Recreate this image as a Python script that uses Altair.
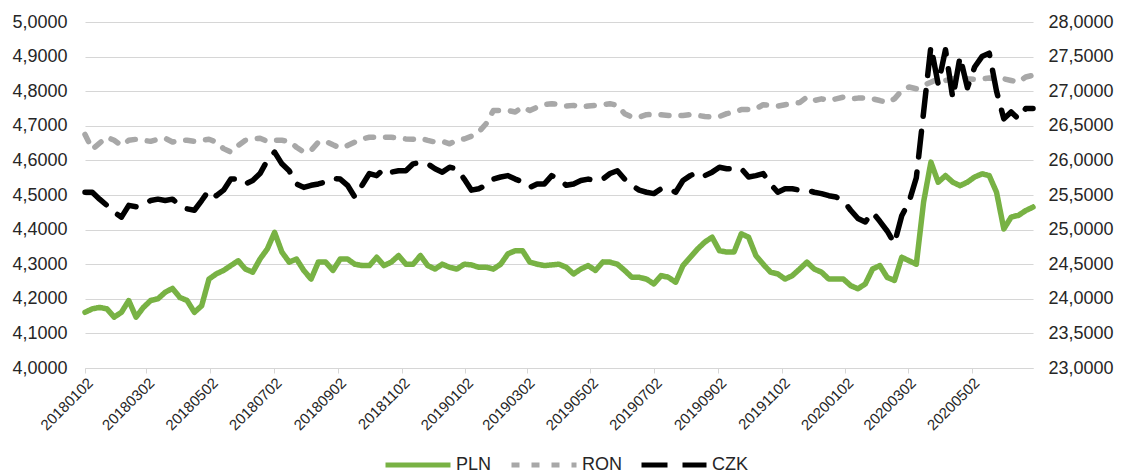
import altair as alt
import pandas as pd

# weekly observation dates (Tuesdays) from 2018-01-02 to 2020-06-30
dates = pd.date_range("2018-01-02", periods=131, freq="7D")

series_names = ["PLN", "RON", "CZK"]

pln = [4.161, 4.171, 4.175, 4.171, 4.147, 4.161, 4.195, 4.147, 4.175, 4.195,
       4.200, 4.219, 4.230, 4.204, 4.195, 4.161, 4.180, 4.257, 4.272, 4.282,
       4.296, 4.310, 4.286, 4.277, 4.315, 4.344, 4.392, 4.335, 4.306, 4.315,
       4.282, 4.257, 4.306, 4.306, 4.282, 4.315, 4.315, 4.300, 4.296, 4.296,
       4.320, 4.296, 4.306, 4.325, 4.300, 4.300, 4.325, 4.296, 4.286, 4.300,
       4.291, 4.286, 4.300, 4.298, 4.291, 4.291, 4.286, 4.300, 4.330, 4.339,
       4.339, 4.306, 4.300, 4.296, 4.298, 4.300, 4.291, 4.272, 4.286, 4.296,
       4.282, 4.306, 4.306, 4.300, 4.282, 4.262, 4.262, 4.257, 4.243, 4.267,
       4.262, 4.248, 4.296, 4.320, 4.344, 4.364, 4.378, 4.339, 4.335, 4.335,
       4.388, 4.378, 4.325, 4.300, 4.277, 4.272, 4.257, 4.267, 4.286, 4.306,
       4.286, 4.277, 4.257, 4.257, 4.257, 4.238, 4.229, 4.243, 4.286, 4.296,
       4.262, 4.253, 4.320, 4.310, 4.300, 4.480, 4.595, 4.537, 4.556, 4.537,
       4.527, 4.537, 4.552, 4.561, 4.556, 4.508, 4.402, 4.436, 4.441, 4.455,
       4.465]

ron = [4.675, 4.632, 4.650, 4.667, 4.658, 4.643, 4.658, 4.661, 4.658, 4.655,
       4.661, 4.664, 4.653, 4.658, 4.658, 4.655, 4.658, 4.661, 4.653, 4.634,
       4.624, 4.643, 4.658, 4.662, 4.664, 4.655, 4.658, 4.658, 4.655, 4.638,
       4.624, 4.629, 4.653, 4.655, 4.645, 4.636, 4.643, 4.653, 4.662, 4.667,
       4.667, 4.667, 4.667, 4.665, 4.662, 4.661, 4.664, 4.658, 4.653, 4.655,
       4.648, 4.658, 4.662, 4.670, 4.682, 4.706, 4.744, 4.744, 4.744, 4.740,
       4.754, 4.744, 4.754, 4.761, 4.764, 4.761, 4.757, 4.759, 4.754, 4.757,
       4.759, 4.761, 4.764, 4.759, 4.735, 4.725, 4.725, 4.732, 4.733, 4.732,
       4.730, 4.730, 4.730, 4.732, 4.730, 4.727, 4.725, 4.727, 4.735, 4.740,
       4.747, 4.747, 4.749, 4.761, 4.759, 4.757, 4.761, 4.764, 4.767, 4.783,
       4.773, 4.778, 4.773, 4.778, 4.783, 4.778, 4.780, 4.780, 4.778, 4.773,
       4.767, 4.778, 4.802, 4.812, 4.807, 4.817, 4.826, 4.836, 4.831, 4.836,
       4.841, 4.836, 4.834, 4.836, 4.838, 4.836, 4.836, 4.831, 4.826, 4.841,
       4.846]

czk = [25.54, 25.54, 25.44, 25.35, 25.25, 25.18, 25.35, 25.33, 25.37, 25.42,
       25.44, 25.42, 25.44, 25.35, 25.30, 25.28, 25.42, 25.57, 25.49, 25.57,
       25.73, 25.73, 25.66, 25.71, 25.81, 26.00, 26.12, 25.95, 25.85, 25.66,
       25.61, 25.64, 25.66, 25.69, 25.74, 25.73, 25.64, 25.47, 25.64, 25.81,
       25.78, 25.88, 25.83, 25.85, 25.85, 25.95, 25.97, 25.95, 25.88, 25.83,
       25.90, 25.88, 25.73, 25.57, 25.59, 25.64, 25.73, 25.76, 25.78, 25.73,
       25.69, 25.61, 25.66, 25.66, 25.78, 25.73, 25.64, 25.66, 25.71, 25.73,
       25.71, 25.73, 25.81, 25.85, 25.73, 25.64, 25.57, 25.54, 25.52, 25.59,
       25.59, 25.54, 25.71, 25.78, 25.83, 25.78, 25.83, 25.90, 25.88, 25.88,
       25.88, 25.76, 25.78, 25.81, 25.66, 25.54, 25.59, 25.59, 25.57, 25.57,
       25.54, 25.52, 25.49, 25.47, 25.42, 25.28, 25.16, 25.11, 25.25, 25.12,
       24.98, 24.80, 25.20, 25.40, 25.75, 26.70, 27.65, 27.10, 27.60, 26.90,
       27.50, 27.05, 27.35, 27.50, 27.55, 27.00, 26.60, 26.70, 26.60, 26.75,
       26.75]

x_tick_labels = ["20180102", "20180302", "20180502", "20180702", "20180902",
                 "20181102", "20190102", "20190302", "20190502", "20190702",
                 "20190902", "20191102", "20200102", "20200302", "20200502"]
left_ticks = [4.0, 4.1, 4.2, 4.3, 4.4, 4.5, 4.6, 4.7, 4.8, 4.9, 5.0]
right_ticks = [23.0, 23.5, 24.0, 24.5, 25.0, 25.5, 26.0, 26.5, 27.0, 27.5, 28.0]

colors = ["#78B244", "#A8A8A8", "#000000"]
dashes = [[1, 0], [8, 12], [26, 15]]

df = pd.DataFrame({
    "date": list(dates) * 3,
    "value": pln + ron + czk,
    "series": ["PLN"] * len(pln) + ["RON"] * len(ron) + ["CZK"] * len(czk),
})


def dt(s):
    return alt.DateTime(year=int(s[:4]), month=int(s[4:6]), date=int(s[6:]))


FONT = "Liberation Sans"
TXT = "#262626"
GRID = "#D6D6D6"

legend = alt.Legend(
    title=None, orient="none", direction="horizontal", legendX=298, legendY=408,
    symbolType="stroke", symbolSize=4225, symbolStrokeWidth=5,
    labelFontSize=18, labelFont=FONT, labelColor=TXT, labelOffset=3,
    columnPadding=9,
)

x_enc = alt.X(
    "date:T",
    scale=alt.Scale(domain=[dt("20180102"), dt("20200630")]),
    axis=alt.Axis(
        values=[dt(s) for s in x_tick_labels], format="%Y%m%d", labelAngle=-45,
        labelOverlap=False, grid=False, domain=True, domainColor=GRID, domainWidth=1,
        tickColor=GRID, tickSize=5, labelFontSize=15, labelFont=FONT,
        labelColor=TXT, labelPadding=2, title=None,
    ),
)

color_enc = alt.Color("series:N", scale=alt.Scale(domain=series_names, range=colors), legend=legend)
dash_enc = alt.StrokeDash("series:N", scale=alt.Scale(domain=series_names, range=dashes), legend=legend)
label_expr = "replace(format(datum.value, '.4f'), '.', ',')"

left = alt.Chart(df).transform_filter(
    alt.FieldOneOfPredicate(field="series", oneOf=["PLN", "RON"])
).mark_line(strokeWidth=5.5, strokeCap="round", strokeJoin="round").encode(
    x=x_enc,
    y=alt.Y("value:Q", scale=alt.Scale(domain=[4, 5], nice=False, zero=False),
            axis=alt.Axis(values=left_ticks, labelExpr=label_expr, grid=True,
                          gridColor=GRID, gridWidth=1.2, domain=False, ticks=False,
                          labelPadding=18, labelFontSize=18, labelFont=FONT,
                          labelColor=TXT, title=None)),
    color=color_enc,
    strokeDash=dash_enc,
)

right = alt.Chart(df).transform_filter(
    alt.datum.series == "CZK"
).mark_line(strokeWidth=5.5, strokeCap="round", strokeJoin="round").encode(
    x=x_enc,
    y=alt.Y("value:Q", scale=alt.Scale(domain=[23, 28], nice=False, zero=False),
            axis=alt.Axis(values=right_ticks, labelExpr=label_expr, orient="right",
                          grid=False, domain=False, ticks=False, labelPadding=15,
                          labelFontSize=18, labelFont=FONT, labelColor=TXT, title=None)),
    color=color_enc,
    strokeDash=dash_enc,
)

chart = alt.layer(left, right).resolve_scale(y="independent").properties(
    width=948, height=346,
    autosize=alt.AutoSizeParams(type="none"),
    padding={"left": 77, "top": 14, "right": 81, "bottom": 107},
).configure_view(stroke=None)

chart.save("out.html", embed_options={"renderer": "svg", "actions": False})
